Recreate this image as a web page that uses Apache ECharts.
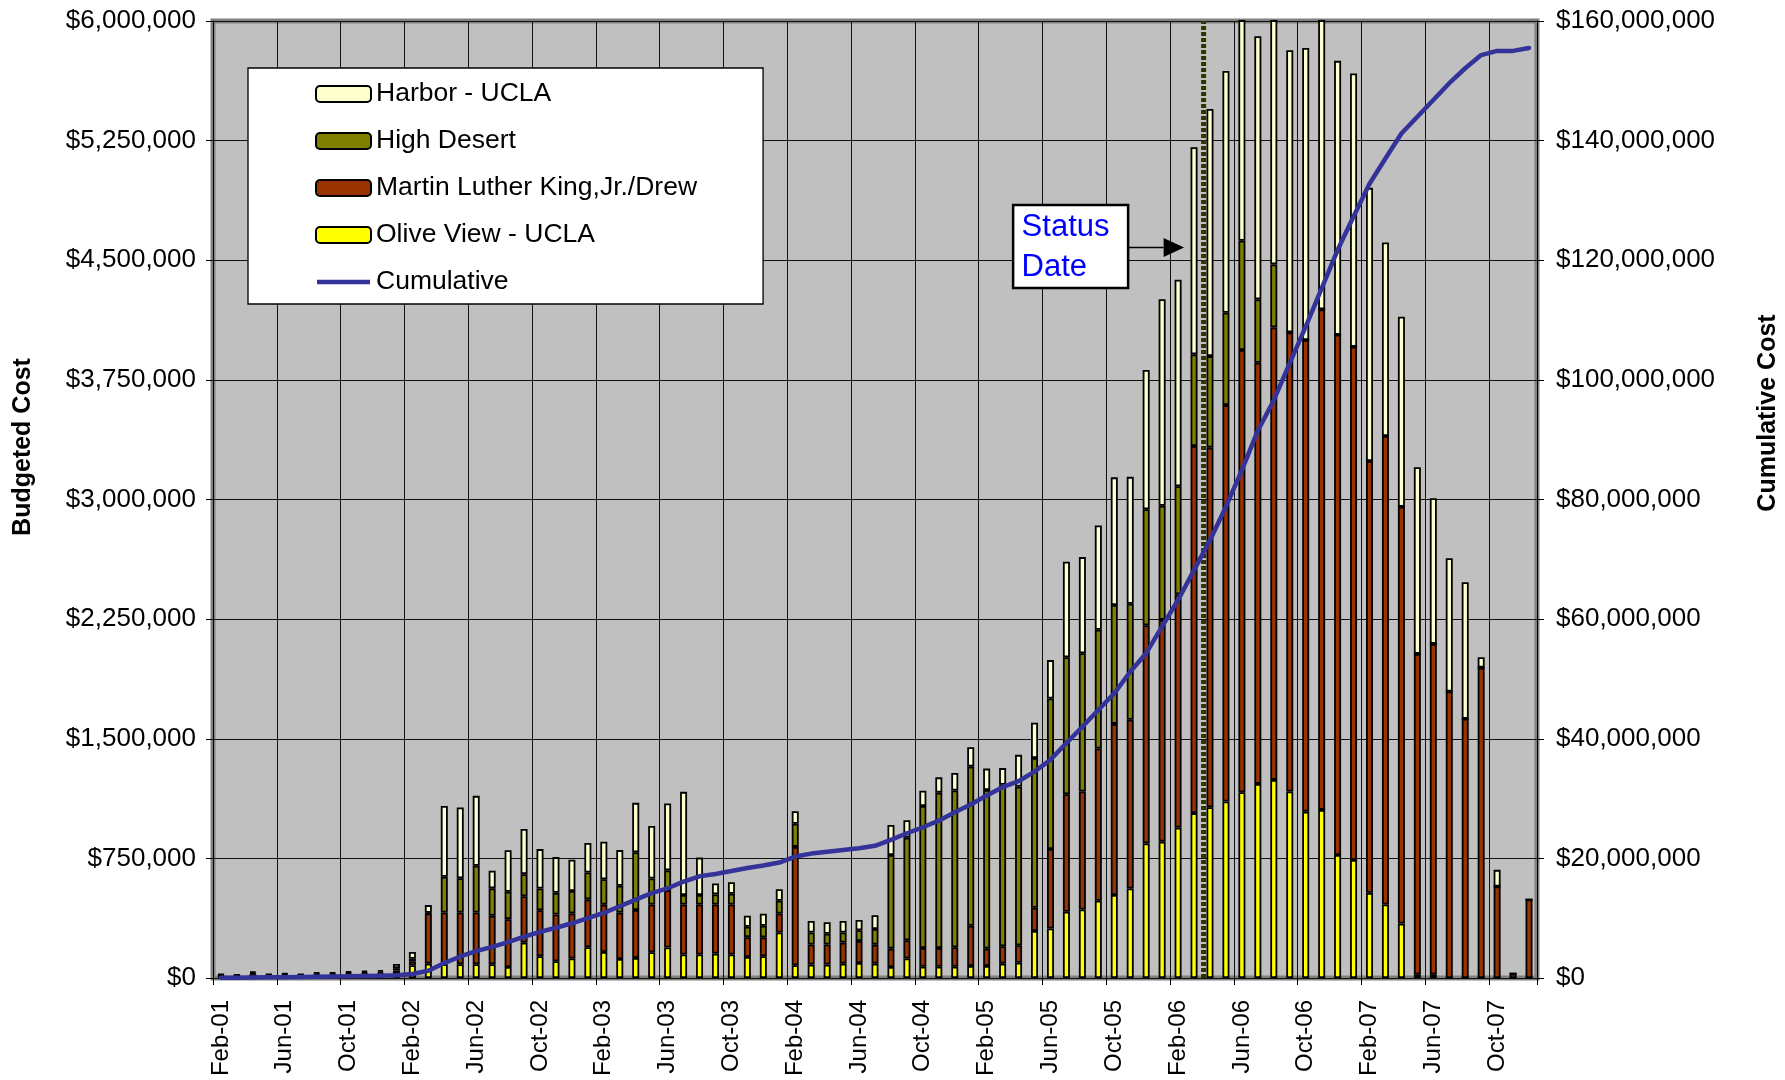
<!DOCTYPE html>
<html><head><meta charset="utf-8">
<script src="https://cdn.jsdelivr.net/npm/echarts@6/dist/echarts.min.js"></script>
<style>html,body{margin:0;padding:0;background:#fff}#c{width:1785px;height:1080px}</style>
</head><body><div id="c"></div>
<script>
const categories = [
 'Feb-01','Mar-01','Apr-01','May-01','Jun-01','Jul-01','Aug-01','Sep-01','Oct-01','Nov-01','Dec-01',
 'Jan-02','Feb-02','Mar-02','Apr-02','May-02','Jun-02','Jul-02','Aug-02','Sep-02','Oct-02','Nov-02','Dec-02',
 'Jan-03','Feb-03','Mar-03','Apr-03','May-03','Jun-03','Jul-03','Aug-03','Sep-03','Oct-03','Nov-03','Dec-03',
 'Jan-04','Feb-04','Mar-04','Apr-04','May-04','Jun-04','Jul-04','Aug-04','Sep-04','Oct-04','Nov-04','Dec-04',
 'Jan-05','Feb-05','Mar-05','Apr-05','May-05','Jun-05','Jul-05','Aug-05','Sep-05','Oct-05','Nov-05','Dec-05',
 'Jan-06','Feb-06','Mar-06','Apr-06','May-06','Jun-06','Jul-06','Aug-06','Sep-06','Oct-06','Nov-06','Dec-06',
 'Jan-07','Feb-07','Mar-07','Apr-07','May-07','Jun-07','Jul-07','Aug-07','Sep-07','Oct-07','Nov-07','Dec-07'
];
// monthly budgeted cost, $ thousands
const oliveView = [8,7,12,8,9,8,11,11,13,14,15,25,
 80,90,86,86,86,86,69,222,136,105,122,193,
 163,119,126,161,191,147,147,153,147,132,136,285,
 80,84,84,90,94,90,69,122,71,71,71,75,
 75,90,96,295,310,415,429,484,520,561,844,855,
 943,1034,1071,1107,1165,1217,1242,1169,1043,1054,771,740,
 534,461,341,21,21,0,0,0,0,0,0];
const mlkDrew = [7,6,12,7,9,7,10,10,12,13,14,22,
 25,314,325,325,325,304,300,291,289,293,283,300,
 297,291,300,300,360,314,314,308,314,124,119,119,
 742,126,126,132,138,119,115,115,117,117,122,253,
 109,109,109,145,499,737,740,955,1073,1058,1368,1390,
 1462,2301,2254,2485,2772,2640,2837,2879,2957,3138,3262,3218,
 2707,2937,2614,2011,2074,1796,1625,1946,574,27,492];
const highDesert = [5,4,8,5,6,5,7,7,8,9,10,15,
 15,5,224,214,293,172,172,138,136,136,140,168,
 159,168,362,163,124,59,59,63,67,65,73,80,
 145,75,67,63,67,98,587,643,890,974,983,997,
 995,1012,995,939,943,859,867,744,746,727,727,716,
 678,575,574,579,685,398,395,0,0,0,0,0,
 0,0,0,0,0,0,0,0,0,0,0];
const harbor = [5,4,8,5,7,5,8,8,9,10,11,26,
 43,48,444,444,438,111,260,283,247,224,197,186,
 235,224,310,329,419,647,235,69,73,69,75,73,
 78,73,73,73,65,86,189,109,96,96,109,122,
 134,105,199,222,241,599,603,654,800,796,873,1295,
 1295,1298,1550,1516,1500,1649,1700,1769,1831,1900,1717,1713,
 1713,1214,1191,1170,913,836,856,65,104,0,0];
// cumulative cost, $ millions
const cumulative = [0.03,0.05,0.09,0.11,0.14,0.17,0.2,0.24,0.28,0.33,0.38,0.47,
 0.68,1.2,2.5,3.6,4.5,5.2,6.0,6.9,7.7,8.4,9.15,10.0,
 10.9,12.0,13.1,14.2,15.0,16.1,17.0,17.4,17.9,18.4,18.8,19.3,
 20.3,20.8,21.1,21.4,21.7,22.1,23.1,24.2,25.2,26.3,27.7,29.0,
 30.5,31.9,32.9,34.5,36.5,39.3,42.0,44.8,47.6,51.2,54.3,58.8,
 63.2,68.2,73.2,78.8,84.9,91.5,96.6,102.8,108.9,115.3,121.7,127.3,
 132.8,137.0,141.2,144.0,146.8,149.6,152.1,154.3,155.0,155.0,155.5];
// status date, in months from the start of Feb-01
const statusDate = 62.1;
const legendOrder = ['Harbor - UCLA','High Desert','Martin Luther King,Jr./Drew','Olive View - UCLA','Cumulative'];

const FONT = '"Liberation Sans", Arial, sans-serif';
function money(v){ return '$' + Math.round(v).toString().replace(/\B(?=(\d{3})+(?!\d))/g, ','); }

const chart = echarts.init(document.getElementById('c'), null, {renderer:'canvas'});
const barBase = {type:'bar', stack:'cost', barWidth:7, xAxisIndex:0, yAxisIndex:0};
function barItem(c){ return {color:c, borderColor:'#000', borderWidth:1.8}; }
const lineIcon = 'path://M0,0M55,16M1,5.7L54,5.7L54,10.3L1,10.3Z';

chart.setOption({
  animation:false,
  backgroundColor:'#ffffff',
  textStyle:{fontFamily:FONT, color:'#000'},
  grid:{left:213, right:248, top:21, bottom:102, show:true, backgroundColor:'#C0C0C0',
        borderColor:'#808080', borderWidth:5, containLabel:false, outerBoundsMode:'none'},
  legend:{
    data:[
      {name:legendOrder[0]},{name:legendOrder[1]},{name:legendOrder[2]},{name:legendOrder[3]},
      {name:legendOrder[4], icon:lineIcon}
    ],
    orient:'vertical', left:248, top:68,
    padding:[11,66,7,67], itemWidth:55, itemHeight:16, itemGap:17,
    backgroundColor:'#ffffff', borderColor:'#000', borderWidth:1.3, borderRadius:0,
    textStyle:{fontSize:26.5, lineHeight:30, color:'#000', fontFamily:FONT},
    selectedMode:false
  },
  xAxis:[{
    type:'category', data:categories, boundaryGap:true, position:'bottom',
    axisLine:{show:false},
    axisTick:{show:true, interval:3, length:7, lineStyle:{color:'#000', width:1}},
    axisLabel:{interval:3, rotate:90, fontSize:24, margin:22, color:'#000', fontFamily:FONT},
    splitLine:{show:true, interval:3, lineStyle:{color:'#111', width:1}}
  },{
    type:'value', min:0, max:83, show:false
  }],
  yAxis:[{
    type:'value', min:0, max:6000, interval:750, position:'left',
    axisLine:{show:true, lineStyle:{color:'#000', width:1}},
    axisTick:{show:true, length:7, lineStyle:{color:'#000'}},
    axisLabel:{fontSize:26, margin:17, color:'#000', fontFamily:FONT, formatter:v=>money(v*1000)},
    splitLine:{show:true, lineStyle:{color:'#111', width:1}}
  },{
    type:'value', min:0, max:160, interval:20, position:'right',
    axisLine:{show:true, lineStyle:{color:'#000', width:1}},
    axisTick:{show:true, length:7, lineStyle:{color:'#000'}},
    axisLabel:{fontSize:26, margin:19, color:'#000', fontFamily:FONT, formatter:v=>money(v*1e6)},
    splitLine:{show:false}
  }],
  series:[
    Object.assign({name:'Olive View - UCLA', data:oliveView, itemStyle:barItem('#FFFF00')}, barBase),
    Object.assign({name:'Martin Luther King,Jr./Drew', data:mlkDrew, itemStyle:barItem('#993300')}, barBase),
    Object.assign({name:'High Desert', data:highDesert, itemStyle:barItem('#808000')}, barBase),
    Object.assign({name:'Harbor - UCLA', data:harbor, itemStyle:barItem('#FFFFCC')}, barBase),
    {name:'Status', type:'line', xAxisIndex:1, yAxisIndex:0, data:[[statusDate,0],[statusDate,6000]],
     symbol:'none', silent:true, z:3,
     lineStyle:{color:'#333300', width:5, type:[4,2], cap:'butt'}},
    {name:'Cumulative', type:'line', xAxisIndex:0, yAxisIndex:1, data:cumulative, symbol:'none',
     z:5, lineStyle:{color:'#333399', width:4.5, cap:'round', join:'round'}, itemStyle:{color:'#333399'}}
  ]
});

const sx = chart.convertToPixel({xAxisIndex:1}, statusDate);
chart.setOption({graphic:[
  {type:'text', x:23, y:447, rotation:Math.PI/2,
   style:{text:'Budgeted Cost', font:'bold 25px '+FONT, fill:'#000', align:'center', verticalAlign:'middle'}},
  {type:'text', x:1768, y:413, rotation:Math.PI/2,
   style:{text:'Cumulative Cost', font:'bold 25px '+FONT, fill:'#000', align:'center', verticalAlign:'middle'}},
  {type:'rect', shape:{x:sx-190.5, y:205, width:115, height:83},
   style:{fill:'#fff', stroke:'#000', lineWidth:2.5}, z:20},
  {type:'text', x:sx-182, y:207, z:21,
   style:{text:'Status\nDate', font:'31px '+FONT, fill:'#0000FF', lineHeight:40, align:'left', verticalAlign:'top'}},
  {type:'line', shape:{x1:sx-75.5, y1:247.5, x2:sx-40, y2:247.5}, style:{stroke:'#000', lineWidth:1.5}, z:20},
  {type:'polygon', shape:{points:[[sx-40,238],[sx-19.5,247.5],[sx-40,257]]}, style:{fill:'#000'}, z:20}
]});
</script></body></html>
